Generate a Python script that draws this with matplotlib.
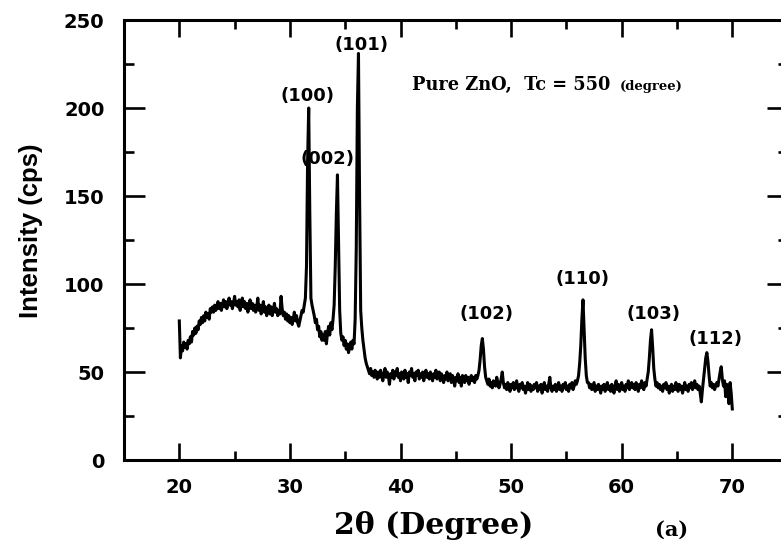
import numpy as np
import matplotlib
matplotlib.use('Agg')
import matplotlib.pyplot as plt
from matplotlib.ticker import MultipleLocator

# XRD scan of pure ZnO film (Tc = 550), 0.1 deg step
two_theta = np.round(np.arange(20.0, 70.001, 0.1), 1)
intensity = [
    79, 58, 65, 62, 67, 64, 66, 63, 68, 66,      # 20
    70, 67, 73, 71, 75, 72, 76, 74, 79, 77,      # 21
    81, 78, 82, 79, 84, 81, 83, 80, 86, 84,      # 22
    87, 84, 88, 85, 87, 90, 86, 89, 85, 88,      # 23
    91, 87, 90, 86, 89, 92, 88, 90, 86, 89,      # 24
    93, 88, 90, 87, 91, 85, 89, 92, 87, 90,      # 25
    86, 89, 84, 88, 91, 86, 89, 85, 88, 84,      # 26
    87, 92, 85, 88, 83, 86, 90, 84, 87, 82,      # 27
    85, 88, 83, 87, 82, 85, 89, 84, 86, 82,      # 28
    85, 83, 93, 86, 82, 84, 80, 83, 79, 82,      # 29
    78, 81, 77, 80, 84, 79, 82, 78, 76, 79,      # 30
    82, 85, 84, 88, 92, 110, 170, 200, 140, 92,  # 31
    88, 85, 82, 78, 80, 74, 76, 70, 73, 68,      # 32
    71, 68, 73, 66, 72, 76, 71, 78, 74, 80,      # 33
    88, 110, 140, 162, 125, 85, 72, 68, 70, 65,  # 34
    68, 63, 66, 61, 64, 67, 63, 68, 66, 80,      # 35
    120, 200, 231, 150, 85, 75, 68, 63, 58, 55,  # 36
    53, 51, 49, 52, 48, 50, 47, 51, 49, 46,      # 37
    50, 47, 51, 48, 45, 49, 52, 47, 50, 48,      # 38
    43, 49, 47, 51, 46, 50, 48, 52, 47, 49,      # 39
    45, 50, 48, 46, 51, 47, 49, 44, 50, 48,      # 40
    52, 47, 49, 45, 50, 48, 51, 46, 49, 47,      # 41
    50, 45, 48, 51, 47, 49, 46, 50, 48, 45,      # 42
    49, 47, 51, 46, 48, 50, 45, 49, 47, 44,      # 43
    48, 46, 50, 45, 47, 49, 44, 48, 46, 42,      # 44
    47, 45, 49, 44, 47, 42, 48, 46, 44, 48,      # 45
    45, 47, 43, 46, 48, 45, 47, 44, 48, 46,      # 46
    48, 51, 57, 65, 69, 63, 53, 47, 45, 43,      # 47
    46, 42, 44, 41, 45, 43, 42, 47, 44, 41,      # 48
    43, 46, 50, 44, 41, 43, 40, 44, 42, 39,      # 49
    43, 41, 44, 40, 42, 45, 41, 39, 43, 41,      # 50
    44, 40, 42, 38, 41, 44, 40, 43, 39, 42,      # 51
    40, 43, 41, 44, 39, 42, 40, 43, 38, 41,      # 52
    44, 40, 42, 39, 43, 47, 41, 39, 42, 40,      # 53
    43, 39, 41, 44, 40, 42, 39, 43, 41, 44,      # 54
    40, 42, 39, 43, 41, 44, 40, 42, 45, 43,      # 55
    45, 48, 55, 65, 80, 91, 75, 58, 48, 44,      # 56
    44, 41, 43, 40, 42, 44, 39, 42, 40, 43,      # 57
    41, 38, 42, 40, 43, 39, 41, 44, 40, 42,      # 58
    39, 43, 41, 38, 42, 45, 40, 43, 39, 41,      # 59
    44, 40, 42, 39, 43, 41, 45, 40, 42, 44,      # 60
    41, 43, 40, 44, 42, 39, 43, 41, 45, 42,      # 61
    40, 44, 42, 46, 50, 58, 68, 74, 64, 52,      # 62
    46, 42, 44, 41, 43, 40, 42, 39, 43, 41,      # 63
    44, 40, 42, 38, 41, 43, 39, 42, 40, 44,      # 64
    41, 39, 43, 40, 42, 38, 41, 44, 40, 42,      # 65
    39, 43, 41, 44, 40, 42, 45, 41, 43, 40,      # 66
    42, 38, 33, 40, 46, 52, 58, 61, 56, 48,      # 67
    42, 44, 41, 43, 40, 42, 44, 42, 46, 50,      # 68
    53, 46, 42, 45, 36, 43, 38, 32, 44, 38,      # 69
    29,                                          # 70
]

# Miller indices of the wurtzite reflections
hkl = ['(100)', '(002)', '(101)', '(102)', '(110)', '(103)', '(112)']

sans = ['DejaVu Sans']
serif = ['DejaVu Serif']

fig = plt.figure(figsize=(7.81, 5.47), dpi=100)
ax = fig.add_axes([124 / 781, 1 - 460 / 547, 663.6 / 781, 440 / 547])

ax.plot(two_theta, intensity, color='k', lw=2.2, solid_joinstyle='round')

ax.set_xlim(15, 75)
ax.set_ylim(0, 250)
ax.xaxis.set_major_locator(MultipleLocator(10))
ax.xaxis.set_minor_locator(MultipleLocator(5))
ax.yaxis.set_major_locator(MultipleLocator(50))
ax.yaxis.set_minor_locator(MultipleLocator(25))

for s in ax.spines.values():
    s.set_linewidth(2.2)
ax.tick_params(which='both', direction='in', top=True, right=True, width=1.9)
ax.tick_params(axis='x', which='major', length=12.5, pad=13)
ax.tick_params(axis='x', which='minor', length=6.5)
ax.tick_params(axis='y', which='major', length=15, pad=14)
ax.tick_params(axis='y', which='minor', length=7.5)
for lab in ax.get_xticklabels() + ax.get_yticklabels():
    lab.set_family(sans)
    lab.set_fontweight('bold')
    lab.set_fontsize(14)

ax.set_ylabel('Intensity (cps)', family=['Liberation Sans', 'DejaVu Sans'],
              fontweight='bold', fontsize=18.5, va='center')
ax.yaxis.set_label_coords(31 / 781, 1 - 231 / 547, transform=fig.transFigure)
ax.set_xlabel('2\u03b8 (Degree)', family=serif, fontweight='bold', fontsize=21.5,
              va='center')
ax.xaxis.set_label_coords(434 / 781, 1 - 525 / 547, transform=fig.transFigure)

# peak labels: (x, y) centre of each label in data units
label_pos = [(31.6, 207), (33.4, 171), (36.45, 236), (47.8, 83),
             (56.5, 103), (62.9, 83), (68.5, 69)]
for name, (lx, ly) in zip(hkl, label_pos):
    ax.text(lx, ly, name, family=sans, fontweight='bold', fontsize=13,
            ha='center', va='center')

ax.text(41.0, 210, 'Pure ZnO,  Tc = 550', family=serif, fontweight='bold',
        fontsize=12.8, va='baseline')
ax.text(59.8, 210, '(degree)', family=serif, fontweight='bold',
        fontsize=9.5, va='baseline')

fig.text(672 / 781, 1 - 530 / 547, '(a)', family=serif, fontweight='bold',
         fontsize=15, ha='center', va='center')

fig.savefig('out.png', dpi=100)
